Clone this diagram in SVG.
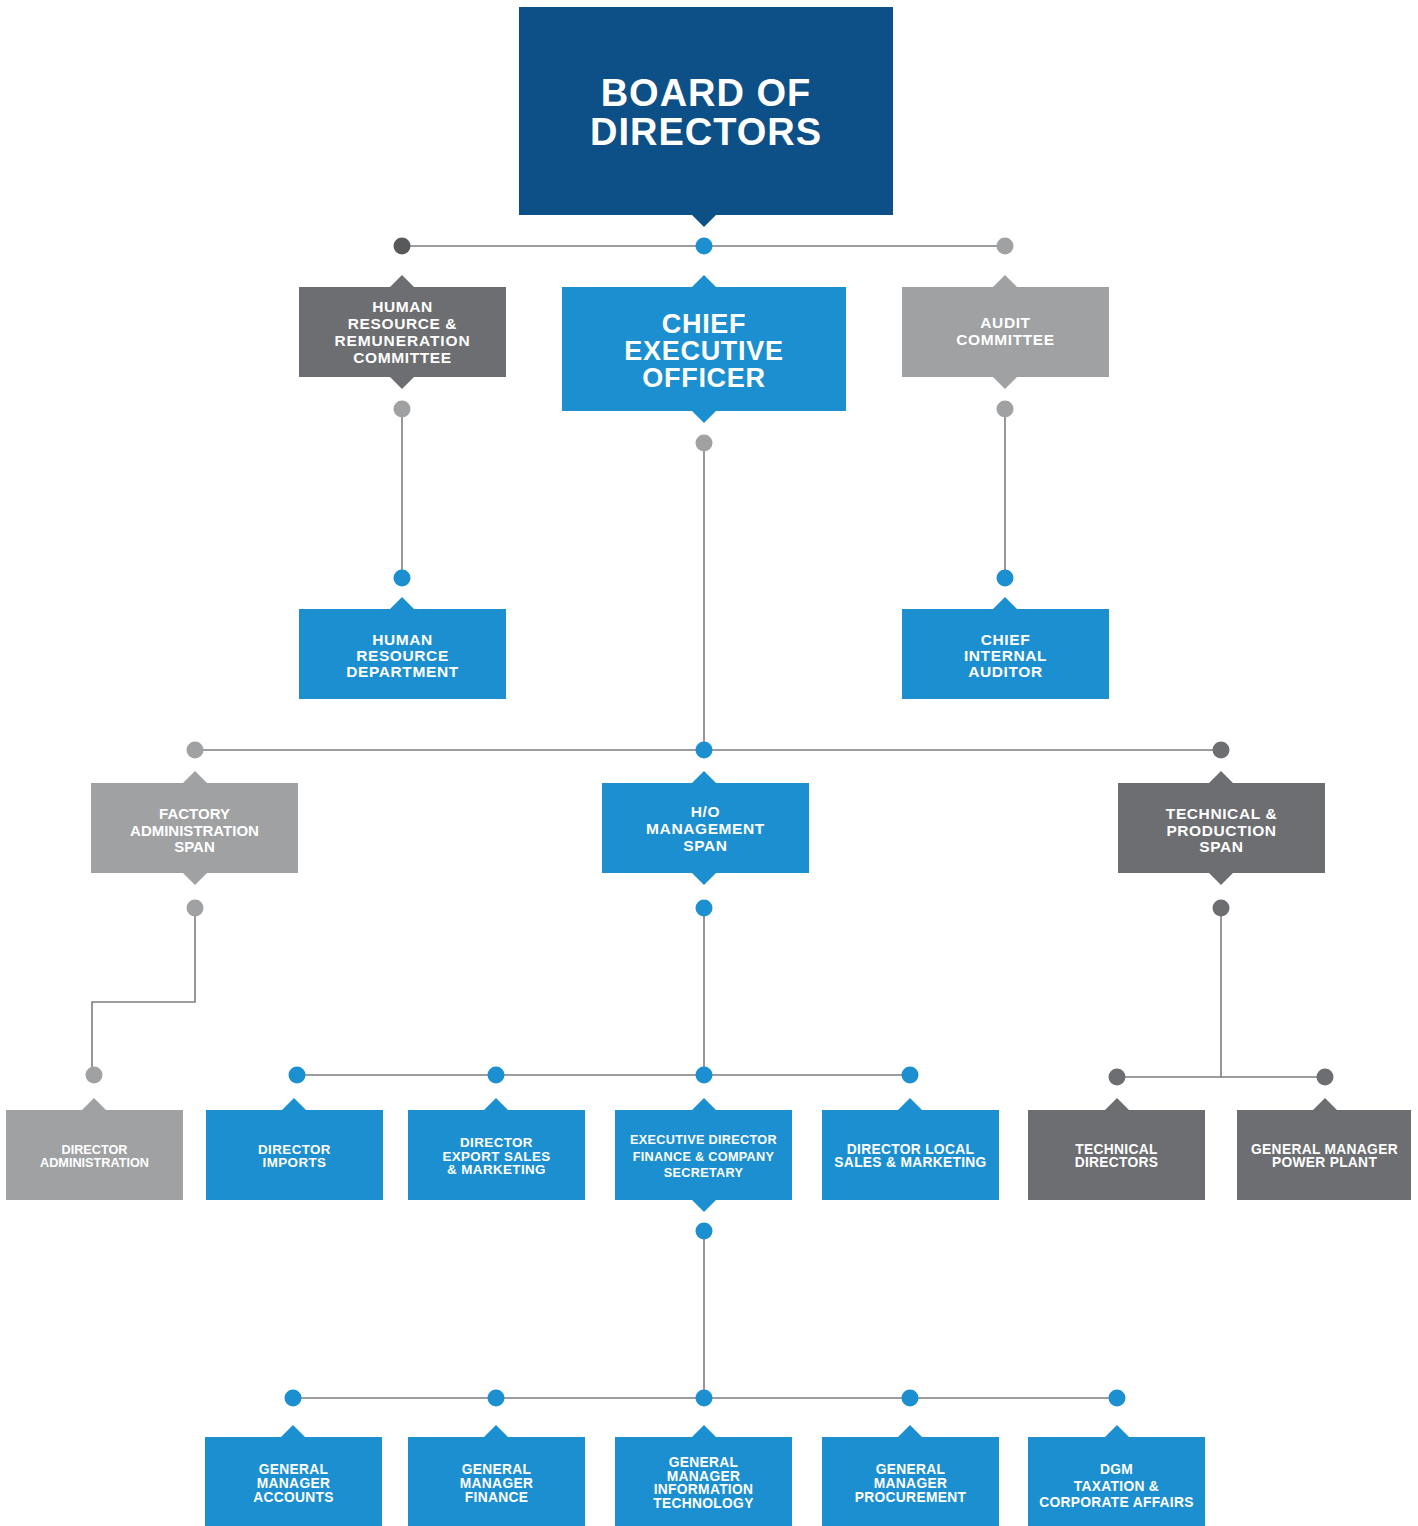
<svg xmlns="http://www.w3.org/2000/svg" width="1418" height="1526" viewBox="0 0 1418 1526">
<style>
.navy{fill:#0d4f87}
.blue{fill:#1b8fcf}
.dg{fill:#6d6e71}
.lg{fill:#a0a1a3}
.dk{fill:#58595b}
.ln{fill:none;stroke:#7d7d7d;stroke-width:1.6}
text{font-family:"Liberation Sans",Arial,sans-serif;font-weight:bold;fill:#ffffff;text-anchor:middle}
.t38{font-size:38px;letter-spacing:1px}
.t27{font-size:27px;letter-spacing:0.7px}
.t16{font-size:15.5px;letter-spacing:0.6px}
.t15{font-size:15px}
.t13{font-size:13.4px;letter-spacing:0.4px}
.t14{font-size:13.8px;letter-spacing:0.3px}
.t12{font-size:12.7px}
</style>
<rect width="1418" height="1526" fill="#ffffff"/>
<g id="connectors">
<line class="ln" x1="402" y1="246" x2="1005" y2="246"/>
<line class="ln" x1="402" y1="409" x2="402" y2="578"/>
<line class="ln" x1="1005" y1="409" x2="1005" y2="578"/>
<line class="ln" x1="704" y1="443" x2="704" y2="750"/>
<line class="ln" x1="195" y1="750" x2="1221" y2="750"/>
<polyline class="ln" points="195,908 195,1002 92,1002 92,1075"/>
<line class="ln" x1="704" y1="908" x2="704" y2="1075"/>
<line class="ln" x1="297" y1="1075" x2="910" y2="1075"/>
<line class="ln" x1="1221" y1="908" x2="1221" y2="1077"/>
<line class="ln" x1="1117" y1="1077" x2="1325" y2="1077"/>
<line class="ln" x1="704" y1="1231" x2="704" y2="1398"/>
<line class="ln" x1="293" y1="1398" x2="1117" y2="1398"/>
<circle class="dk" cx="402" cy="246" r="8.5"/>
<circle class="blue" cx="704" cy="246" r="8.5"/>
<circle class="lg" cx="1005" cy="246" r="8.5"/>
<circle class="lg" cx="402" cy="409" r="8.5"/>
<circle class="lg" cx="704" cy="443" r="8.5"/>
<circle class="lg" cx="1005" cy="409" r="8.5"/>
<circle class="blue" cx="402" cy="578" r="8.5"/>
<circle class="blue" cx="1005" cy="578" r="8.5"/>
<circle class="lg" cx="195" cy="750" r="8.5"/>
<circle class="blue" cx="704" cy="750" r="8.5"/>
<circle class="dg" cx="1221" cy="750" r="8.5"/>
<circle class="lg" cx="195" cy="908" r="8.5"/>
<circle class="blue" cx="704" cy="908" r="8.5"/>
<circle class="dg" cx="1221" cy="908" r="8.5"/>
<circle class="lg" cx="94" cy="1075" r="8.5"/>
<circle class="blue" cx="297" cy="1075" r="8.5"/>
<circle class="blue" cx="496" cy="1075" r="8.5"/>
<circle class="blue" cx="704" cy="1075" r="8.5"/>
<circle class="blue" cx="910" cy="1075" r="8.5"/>
<circle class="dg" cx="1117" cy="1077" r="8.5"/>
<circle class="dg" cx="1325" cy="1077" r="8.5"/>
<circle class="blue" cx="704" cy="1231" r="8.5"/>
<circle class="blue" cx="293" cy="1398" r="8.5"/>
<circle class="blue" cx="496" cy="1398" r="8.5"/>
<circle class="blue" cx="704" cy="1398" r="8.5"/>
<circle class="blue" cx="910" cy="1398" r="8.5"/>
<circle class="blue" cx="1117" cy="1398" r="8.5"/>
</g>
<g id="board">
<rect class="navy" x="519" y="7" width="374" height="208"/>
<polygon class="navy" points="692,215 716,215 704,227"/>
<text class="t38" x="706" y="106">BOARD OF</text>
<text class="t38" x="706" y="145">DIRECTORS</text>
</g>
<g id="hr-committee">
<rect class="dg" x="299" y="287" width="207" height="90"/>
<polygon class="dg" points="390,287 414,287 402,275"/>
<polygon class="dg" points="390,377 414,377 402,389"/>
<text class="t16" x="402.5" y="312">HUMAN</text>
<text class="t16" x="402.5" y="329">RESOURCE &amp;</text>
<text class="t16" x="402.5" y="346" style="letter-spacing:0.9px">REMUNERATION</text>
<text class="t16" x="402.5" y="363">COMMITTEE</text>
</g>
<g id="ceo">
<rect class="blue" x="562" y="287" width="284" height="124"/>
<polygon class="blue" points="692,287 716,287 704,275"/>
<polygon class="blue" points="692,411 716,411 704,423"/>
<text class="t27" x="704" y="333">CHIEF</text>
<text class="t27" x="704" y="360">EXECUTIVE</text>
<text class="t27" x="704" y="387">OFFICER</text>
</g>
<g id="audit-committee">
<rect class="lg" x="902" y="287" width="207" height="90"/>
<polygon class="lg" points="993,287 1017,287 1005,275"/>
<polygon class="lg" points="993,377 1017,377 1005,389"/>
<text class="t16" x="1005.5" y="328">AUDIT</text>
<text class="t16" x="1005.5" y="345">COMMITTEE</text>
</g>
<g id="hr-department">
<rect class="blue" x="299" y="609" width="207" height="90"/>
<polygon class="blue" points="390,609 414,609 402,597"/>
<text class="t16" x="402.5" y="645">HUMAN</text>
<text class="t16" x="402.5" y="661">RESOURCE</text>
<text class="t16" x="402.5" y="677">DEPARTMENT</text>
</g>
<g id="chief-internal-auditor">
<rect class="blue" x="902" y="609" width="207" height="90"/>
<polygon class="blue" points="993,609 1017,609 1005,597"/>
<text class="t16" x="1005.5" y="645">CHIEF</text>
<text class="t16" x="1005.5" y="661">INTERNAL</text>
<text class="t16" x="1005.5" y="677">AUDITOR</text>
</g>
<g id="factory-admin">
<rect class="lg" x="91" y="783" width="207" height="90"/>
<polygon class="lg" points="183,783 207,783 195,771"/>
<polygon class="lg" points="183,873 207,873 195,885"/>
<text class="t15" x="194.5" y="819">FACTORY</text>
<text class="t15" x="194.5" y="836">ADMINISTRATION</text>
<text class="t15" x="194.5" y="852">SPAN</text>
</g>
<g id="ho-management">
<rect class="blue" x="602" y="783" width="207" height="90"/>
<polygon class="blue" points="692,783 716,783 704,771"/>
<polygon class="blue" points="692,873 716,873 704,885"/>
<text class="t16" x="705.5" y="817">H/O</text>
<text class="t16" x="705.5" y="834">MANAGEMENT</text>
<text class="t16" x="705.5" y="851">SPAN</text>
</g>
<g id="technical-production">
<rect class="dg" x="1118" y="783" width="207" height="90"/>
<polygon class="dg" points="1209,783 1233,783 1221,771"/>
<polygon class="dg" points="1209,873 1233,873 1221,885"/>
<text class="t16" x="1221.5" y="819">TECHNICAL &amp;</text>
<text class="t16" x="1221.5" y="836">PRODUCTION</text>
<text class="t16" x="1221.5" y="852">SPAN</text>
</g>
<g id="director-administration">
<rect class="lg" x="6" y="1110" width="177" height="90"/>
<polygon class="lg" points="82,1110 106,1110 94,1098"/>
<text class="t12" x="94.5" y="1154">DIRECTOR</text>
<text class="t12" x="94.5" y="1167">ADMINISTRATION</text>
</g>
<g id="director-imports">
<rect class="blue" x="206" y="1110" width="177" height="90"/>
<polygon class="blue" points="282,1110 306,1110 294,1098"/>
<text class="t13" x="294.5" y="1154">DIRECTOR</text>
<text class="t13" x="294.5" y="1167">IMPORTS</text>
</g>
<g id="director-export">
<rect class="blue" x="408" y="1110" width="177" height="90"/>
<polygon class="blue" points="484,1110 508,1110 496,1098"/>
<text class="t13" x="496.5" y="1147">DIRECTOR</text>
<text class="t13" x="496.5" y="1161">EXPORT SALES</text>
<text class="t13" x="496.5" y="1174">&amp; MARKETING</text>
</g>
<g id="executive-director">
<rect class="blue" x="615" y="1110" width="177" height="90"/>
<polygon class="blue" points="692,1110 716,1110 704,1098"/>
<polygon class="blue" points="692,1200 716,1200 704,1212"/>
<text class="t12" x="703.5" y="1144" style="letter-spacing:0.3px">EXECUTIVE DIRECTOR</text>
<text class="t12" x="703.5" y="1161" style="letter-spacing:0.3px">FINANCE &amp; COMPANY</text>
<text class="t12" x="703.5" y="1177" style="letter-spacing:0.3px">SECRETARY</text>
</g>
<g id="director-local">
<rect class="blue" x="822" y="1110" width="177" height="90"/>
<polygon class="blue" points="898,1110 922,1110 910,1098"/>
<text class="t14" x="910.5" y="1154">DIRECTOR LOCAL</text>
<text class="t14" x="910.5" y="1167">SALES &amp; MARKETING</text>
</g>
<g id="technical-directors">
<rect class="dg" x="1028" y="1110" width="177" height="90"/>
<polygon class="dg" points="1105,1110 1129,1110 1117,1098"/>
<text class="t14" x="1116.5" y="1154">TECHNICAL</text>
<text class="t14" x="1116.5" y="1167">DIRECTORS</text>
</g>
<g id="gm-power-plant">
<rect class="dg" x="1237" y="1110" width="174" height="90"/>
<polygon class="dg" points="1313,1110 1337,1110 1325,1098"/>
<text class="t14" x="1324.5" y="1154">GENERAL MANAGER</text>
<text class="t14" x="1324.5" y="1167">POWER PLANT</text>
</g>
<g id="gm-accounts">
<rect class="blue" x="205" y="1437" width="177" height="89"/>
<polygon class="blue" points="281,1437 305,1437 293,1425"/>
<text class="t14" x="293.5" y="1474">GENERAL</text>
<text class="t14" x="293.5" y="1488">MANAGER</text>
<text class="t14" x="293.5" y="1502">ACCOUNTS</text>
</g>
<g id="gm-finance">
<rect class="blue" x="408" y="1437" width="177" height="89"/>
<polygon class="blue" points="484,1437 508,1437 496,1425"/>
<text class="t14" x="496.5" y="1474">GENERAL</text>
<text class="t14" x="496.5" y="1488">MANAGER</text>
<text class="t14" x="496.5" y="1502">FINANCE</text>
</g>
<g id="gm-it">
<rect class="blue" x="615" y="1437" width="177" height="89"/>
<polygon class="blue" points="692,1437 716,1437 704,1425"/>
<text class="t14" x="703.5" y="1467">GENERAL</text>
<text class="t14" x="703.5" y="1481">MANAGER</text>
<text class="t14" x="703.5" y="1494">INFORMATION</text>
<text class="t14" x="703.5" y="1508">TECHNOLOGY</text>
</g>
<g id="gm-procurement">
<rect class="blue" x="822" y="1437" width="177" height="89"/>
<polygon class="blue" points="898,1437 922,1437 910,1425"/>
<text class="t14" x="910.5" y="1474">GENERAL</text>
<text class="t14" x="910.5" y="1488">MANAGER</text>
<text class="t14" x="910.5" y="1502">PROCUREMENT</text>
</g>
<g id="dgm-taxation">
<rect class="blue" x="1028" y="1437" width="177" height="89"/>
<polygon class="blue" points="1105,1437 1129,1437 1117,1425"/>
<text class="t14" x="1116.5" y="1474">DGM</text>
<text class="t14" x="1116.5" y="1491">TAXATION &amp;</text>
<text class="t14" x="1116.5" y="1507">CORPORATE AFFAIRS</text>
</g>
</svg>
